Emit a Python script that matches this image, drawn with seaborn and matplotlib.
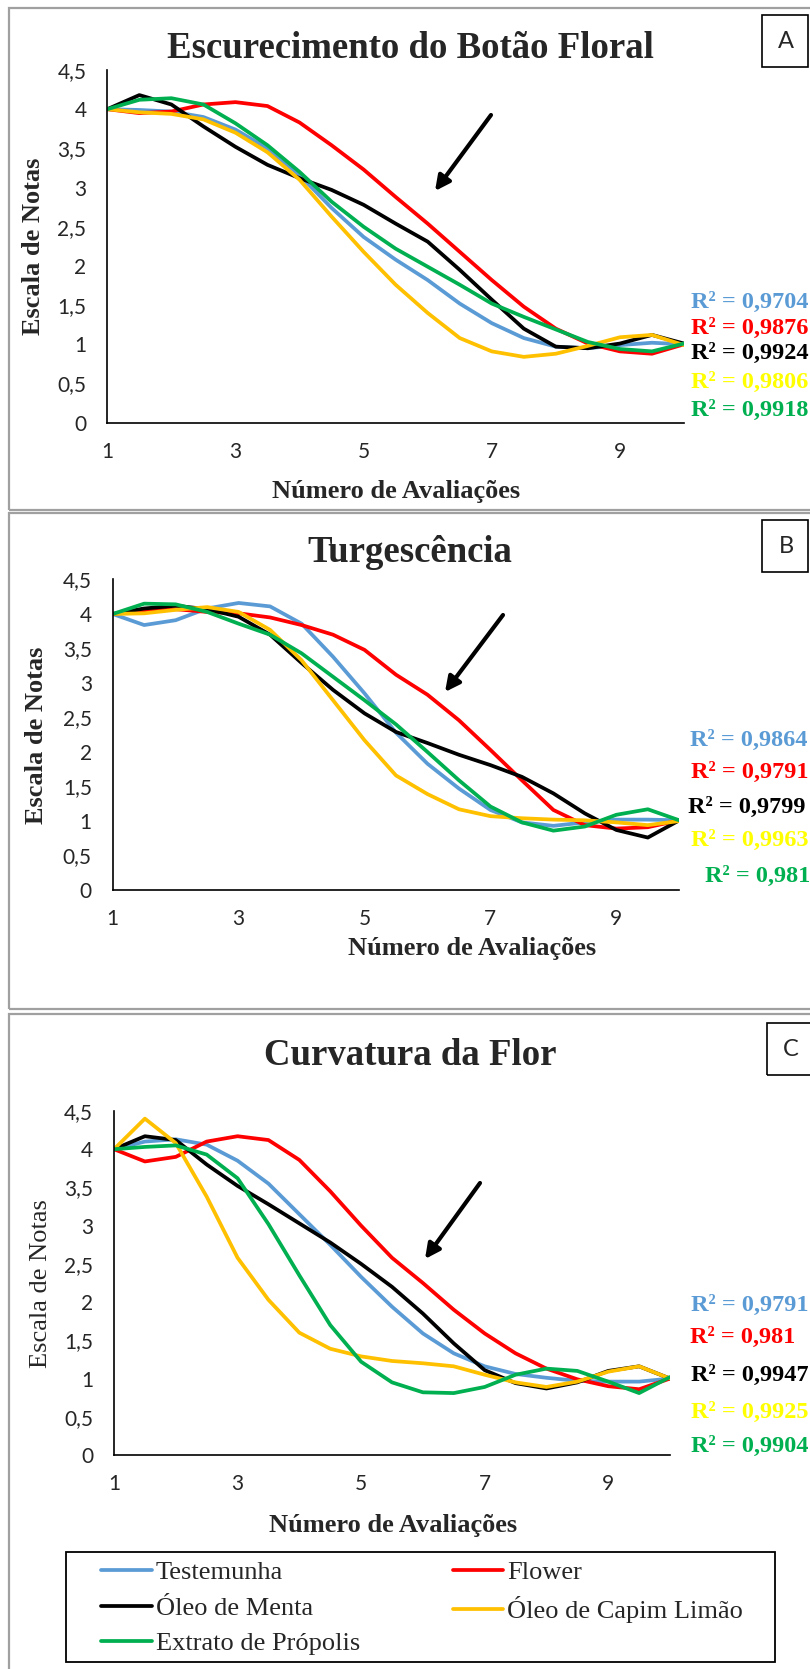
import matplotlib.pyplot as plt
import pandas as pd
import seaborn as sns
from matplotlib.patches import Rectangle
from matplotlib.ticker import FuncFormatter

# avaliações lidas a cada 0,5 sobre as curvas de tendência
avaliacoes = [1, 1.5, 2, 2.5, 3, 3.5, 4, 4.5, 5, 5.5, 6, 6.5, 7, 7.5, 8, 8.5, 9, 9.5, 10]
tratamentos = ['Testemunha', 'Flower', 'Óleo de Menta', 'Óleo de Capim Limão', 'Extrato de Própolis']
cores = ['#5B9BD5', '#FF0000', '#000000', '#FFC000', '#00B050']
cores_r2 = ['#5B9BD5', '#FF0000', '#000000', '#FFFF00', '#00B050']

# A - Escurecimento do Botão Floral
esc_testemunha = [4.00, 3.99, 3.97, 3.90, 3.74, 3.50, 3.16, 2.74, 2.37, 2.08, 1.82, 1.52, 1.27, 1.08, 0.97, 0.95, 0.99, 1.02, 1.00]
esc_flower = [4.00, 3.95, 3.97, 4.06, 4.09, 4.04, 3.83, 3.54, 3.23, 2.88, 2.54, 2.18, 1.82, 1.48, 1.20, 1.01, 0.91, 0.88, 1.00]
esc_menta = [4.00, 4.18, 4.06, 3.78, 3.52, 3.29, 3.12, 2.97, 2.78, 2.54, 2.31, 1.95, 1.57, 1.20, 0.97, 0.95, 1.01, 1.12, 1.01]
esc_capim = [4.00, 3.96, 3.94, 3.87, 3.70, 3.45, 3.10, 2.63, 2.18, 1.76, 1.40, 1.08, 0.91, 0.84, 0.88, 0.98, 1.09, 1.12, 0.99]
esc_propolis = [4.00, 4.12, 4.14, 4.06, 3.82, 3.54, 3.20, 2.82, 2.50, 2.22, 1.99, 1.76, 1.52, 1.35, 1.19, 1.03, 0.94, 0.91, 1.01]
r2_esc = ['0,9704', '0,9876', '0,9924', '0,9806', '0,9918']

# B - Turgescência
tur_testemunha = [4.00, 3.84, 3.91, 4.08, 4.16, 4.11, 3.86, 3.38, 2.85, 2.28, 1.83, 1.47, 1.16, 0.98, 0.93, 0.98, 1.02, 1.02, 1.01]
tur_flower = [4.00, 4.05, 4.07, 4.03, 4.01, 3.95, 3.84, 3.70, 3.48, 3.12, 2.83, 2.46, 2.03, 1.59, 1.16, 0.94, 0.89, 0.91, 1.01]
tur_menta = [4.00, 4.08, 4.12, 4.07, 3.96, 3.70, 3.29, 2.90, 2.56, 2.29, 2.13, 1.96, 1.81, 1.64, 1.40, 1.11, 0.87, 0.76, 1.01]
tur_capim = [4.00, 4.01, 4.06, 4.10, 4.03, 3.77, 3.33, 2.75, 2.17, 1.66, 1.39, 1.17, 1.07, 1.04, 1.02, 1.01, 0.98, 0.94, 1.00]
tur_propolis = [4.00, 4.15, 4.14, 4.03, 3.86, 3.70, 3.43, 3.09, 2.75, 2.40, 2.00, 1.59, 1.21, 0.98, 0.86, 0.92, 1.09, 1.17, 1.01]
r2_tur = ['0,9864', '0,9791', '0,9799', '0,9963', '0,981']

# C - Curvatura da Flor
cur_testemunha = [4.00, 4.10, 4.13, 4.06, 3.85, 3.55, 3.15, 2.75, 2.33, 1.94, 1.59, 1.33, 1.16, 1.06, 1.01, 0.97, 0.96, 0.96, 1.00]
cur_flower = [4.00, 3.84, 3.90, 4.10, 4.17, 4.12, 3.86, 3.45, 3.00, 2.58, 2.25, 1.90, 1.59, 1.33, 1.13, 0.99, 0.90, 0.86, 1.00]
cur_menta = [4.00, 4.17, 4.12, 3.80, 3.52, 3.28, 3.03, 2.78, 2.50, 2.20, 1.85, 1.46, 1.11, 0.94, 0.87, 0.95, 1.10, 1.16, 1.00]
cur_capim = [4.00, 4.40, 4.08, 3.38, 2.58, 2.03, 1.60, 1.39, 1.29, 1.23, 1.20, 1.16, 1.05, 0.95, 0.89, 0.96, 1.09, 1.16, 1.00]
cur_propolis = [4.00, 4.03, 4.05, 3.93, 3.62, 3.02, 2.35, 1.70, 1.22, 0.95, 0.82, 0.81, 0.89, 1.05, 1.13, 1.10, 0.96, 0.81, 1.02]
r2_cur = ['0,9791', '0,981', '0,9947', '0,9925', '0,9904']

x_ticks = [1, 3, 5, 7, 9]
y_ticks = [0, 0.5, 1, 1.5, 2, 2.5, 3, 3.5, 4, 4.5]

W, H = 810, 1669


def fx(px):
    return px / W


def fy(py):
    return 1 - py / H


def tabela(series):
    linhas = []
    for nome, valores in zip(tratamentos, series):
        for a, v in zip(avaliacoes, valores):
            linhas.append({'avaliacao': a, 'nota': v, 'tratamento': nome})
    return pd.DataFrame(linhas)


paineis = [
    dict(letra='A', titulo='Escurecimento do Botão Floral',
         series=[esc_testemunha, esc_flower, esc_menta, esc_capim, esc_propolis], r2=r2_esc,
         box=(9, 8, 510), ax=(107.3, 684, 70, 422.7), title_y=58, letter_box=(762, 15, 67),
         xlabel=(396, 498), ylabel=(34, 246, 'bold'), arrow=((491, 115), (435, 191)),
         r2_x=[691, 691, 691, 691, 691], r2_y=[302, 328, 353, 382, 410]),
    dict(letra='B', titulo='Turgescência',
         series=[tur_testemunha, tur_flower, tur_menta, tur_capim, tur_propolis], r2=r2_tur,
         box=(9, 513, 1009), ax=(112.7, 679.3, 579.5, 890), title_y=562, letter_box=(762, 520, 572),
         xlabel=(472, 955), ylabel=(37, 735, 'bold'), arrow=((503, 615), (445, 692)),
         r2_x=[690, 691, 688, 691, 705], r2_y=[740, 772, 807, 840, 876]),
    dict(letra='C', titulo='Curvatura da Flor',
         series=[cur_testemunha, cur_flower, cur_menta, cur_capim, cur_propolis], r2=r2_cur,
         box=(9, 1014, 1675), ax=(114, 670, 1111, 1455), title_y=1065, letter_box=(767, 1023, 1075),
         xlabel=(393, 1532), ylabel=(41, 1284, 'normal'), arrow=((480, 1183), (425, 1259)),
         r2_x=[691, 690, 691, 691, 691], r2_y=[1305, 1337, 1375, 1412, 1446]),
]

sns.set_style('white')
plt.rcParams['font.family'] = ['Liberation Serif', 'DejaVu Serif']

fig = plt.figure(figsize=(W / 100, H / 100), dpi=100)
virgula = FuncFormatter(lambda v, _: f'{v:g}'.replace('.', ','))

for p in paineis:
    bx, btop, bbot = p['box']
    fig.add_artist(Rectangle((fx(bx), fy(bbot)), 1.02 - fx(bx), (bbot - btop) / H,
                             transform=fig.transFigure, fill=False, edgecolor='#a0a0a0', lw=1.6))

    left, right, top, bottom = p['ax']
    ax = fig.add_axes([fx(left), fy(bottom), (right - left) / W, (bottom - top) / H])
    sns.lineplot(data=tabela(p['series']), x='avaliacao', y='nota', hue='tratamento',
                 hue_order=tratamentos, palette=cores, linewidth=2.7, legend=False,
                 estimator=None, ax=ax)
    for ln in ax.get_lines():
        ln.set_solid_joinstyle('round')
    ax.set_xlim(1, 10)
    ax.set_ylim(0, 4.5)
    ax.set_xticks(x_ticks)
    ax.set_yticks(y_ticks)
    ax.yaxis.set_major_formatter(virgula)
    ax.set_xlabel('')
    ax.set_ylabel('')
    ax.tick_params(axis='x', length=0, pad=14)
    ax.tick_params(axis='y', length=0, pad=15)
    for lab in ax.get_xticklabels() + ax.get_yticklabels():
        lab.set_family('Lato')
        lab.set_fontsize(15)
    sns.despine(ax=ax)
    for s in ('left', 'bottom'):
        ax.spines[s].set_color('#000000')
        ax.spines[s].set_linewidth(1.2)

    fig.text(fx(410), fy(p['title_y']), p['titulo'], ha='center', va='baseline',
             fontsize=26.5, fontweight='bold')
    fig.text(fx(p['xlabel'][0]), fy(p['xlabel'][1]), 'Número de Avaliações', ha='center',
             va='baseline', fontsize=19, fontweight='bold')
    yx, yy, peso = p['ylabel']
    fig.text(fx(yx), fy(yy), 'Escala de Notas', rotation=90, ha='center', va='center',
             fontsize=19, fontweight=peso)

    lx, ltop, lbot = p['letter_box']
    fig.add_artist(Rectangle((fx(lx), fy(lbot)), 46 / W, (lbot - ltop) / H,
                             transform=fig.transFigure, fill=False, edgecolor='black', lw=1.2))
    fig.text(fx(lx + 24), fy((ltop + lbot) / 2), p['letra'], ha='center', va='center',
             fontsize=17, family='Lato')

    (x0, y0), (x1, y1) = p['arrow']
    ax.annotate('', xy=(x1, H - y1), xytext=(x0, H - y0), xycoords='figure pixels',
                textcoords='figure pixels',
                arrowprops=dict(arrowstyle='-|>', lw=3, color='black', mutation_scale=22,
                                shrinkA=0, shrinkB=0))

    for valor, cor, rx, ry in zip(p['r2'], cores_r2, p['r2_x'], p['r2_y']):
        fig.text(fx(rx), fy(ry), f'R² = {valor}', ha='left', va='center', fontsize=17.5,
                 fontweight='bold', color=cor)

# legenda comum, preenchida por colunas, com moldura desenhada à parte
fig.add_artist(Rectangle((fx(66), fy(1662)), (775 - 66) / W, (1662 - 1552) / H,
                         transform=fig.transFigure, fill=False, edgecolor='black', lw=1.3))
linhas = ax.get_lines()[:5]
ordem = [0, 2, 4, 1, 3]
fig.legend([linhas[i] for i in ordem], [tratamentos[i] for i in ordem],
           loc='upper left', bbox_to_anchor=(fx(101), fy(1561)), ncol=2, fontsize=19,
           frameon=False, handlelength=1.93, handletextpad=0.15, columnspacing=3.5,
           labelspacing=0.45, borderaxespad=0, borderpad=0)

fig.savefig('out.png', dpi=100)
